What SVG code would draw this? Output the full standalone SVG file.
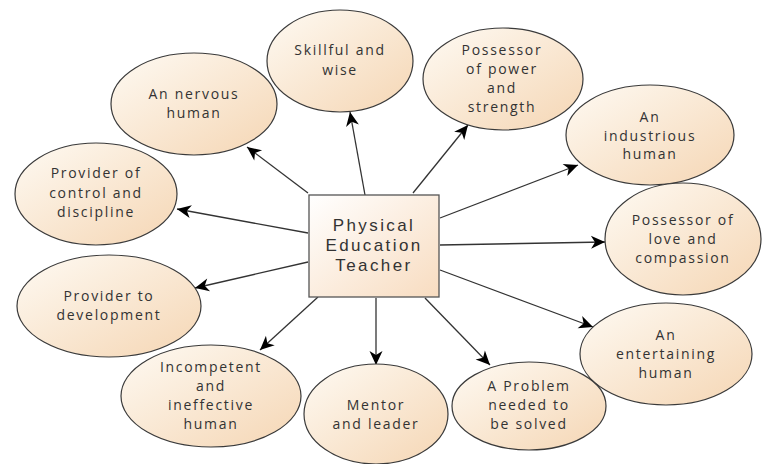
<svg xmlns="http://www.w3.org/2000/svg" width="765" height="464" viewBox="0 0 765 464">
<style>
.n ellipse{fill:url(#g);stroke:#3a3a3a;stroke-width:1.2}
.n text{font-family:"Open Sans","DejaVu Sans",sans-serif;font-size:14px;letter-spacing:1.7px;fill:#333;text-anchor:middle}
#center rect{fill:url(#gb);stroke:#555;stroke-width:1.3}
#center text{font-family:"Liberation Sans",Arial,sans-serif;font-size:17px;letter-spacing:2.4px;fill:#333;text-anchor:middle}
#connectors line{stroke:#333;stroke-width:1.3;marker-end:url(#ah)}
</style>
<defs>
<linearGradient id="g" x1="0" y1="0" x2="1" y2="1">
<stop offset="0" stop-color="#fefaf3"/>
<stop offset="1" stop-color="#f5d6b4"/>
</linearGradient>
<linearGradient id="gb" x1="0" y1="0" x2="1" y2="1">
<stop offset="0" stop-color="#ffffff"/>
<stop offset="1" stop-color="#f8dcc0"/>
</linearGradient>
<marker id="ah" viewBox="-15 -8 16 16" markerWidth="16" markerHeight="16" refX="0" refY="0" markerUnits="userSpaceOnUse" orient="auto">
<path d="M0,0 L-14,-6.5 L-10,0 L-14,6.5 Z" fill="#000"/>
</marker>
</defs>
<rect width="765" height="464" fill="#fff"/>
<g id="connectors">
<line x1="308" y1="193" x2="247" y2="147"/>
<line x1="365" y1="195" x2="350" y2="112"/>
<line x1="308" y1="233" x2="177" y2="209"/>
<line x1="413" y1="193" x2="468" y2="125"/>
<line x1="440" y1="218" x2="578" y2="165"/>
<line x1="440" y1="245" x2="605" y2="242"/>
<line x1="440" y1="270" x2="593" y2="327"/>
<line x1="425" y1="298" x2="490" y2="365"/>
<line x1="376" y1="298" x2="376" y2="365"/>
<line x1="318" y1="297" x2="260" y2="350"/>
<line x1="308" y1="262" x2="195" y2="288"/>
</g>
<g id="nervous" class="n"><ellipse cx="194" cy="104" rx="83" ry="51"/><text x="194" y="99">An nervous</text><text x="194" y="118">human</text></g>
<g id="skillful" class="n"><ellipse cx="340" cy="61" rx="73" ry="51"/><text x="340" y="55">Skillful and</text><text x="340" y="75">wise</text></g>
<g id="control" class="n"><ellipse cx="96" cy="194" rx="81" ry="51"/><text x="96" y="178">Provider of</text><text x="96" y="198">control and</text><text x="96" y="217">discipline</text></g>
<g id="power" class="n"><ellipse cx="503" cy="79" rx="80" ry="51"/><text x="502" y="55">Possessor</text><text x="502" y="74">of power</text><text x="502" y="93">and</text><text x="502" y="112">strength</text></g>
<g id="industrious" class="n"><ellipse cx="650" cy="135" rx="84" ry="50"/><text x="650" y="122">An</text><text x="650" y="141">industrious</text><text x="650" y="159">human</text></g>
<g id="love" class="n"><ellipse cx="683" cy="239" rx="78" ry="56"/><text x="683" y="225">Possessor of</text><text x="683" y="244">love and</text><text x="683" y="263">compassion</text></g>
<g id="entertaining" class="n"><ellipse cx="666" cy="354" rx="86" ry="51"/><text x="666" y="340">An</text><text x="666" y="359">entertaining</text><text x="666" y="378">human</text></g>
<g id="problem" class="n"><ellipse cx="529" cy="406" rx="77" ry="44"/><text x="529" y="391">A Problem</text><text x="529" y="410">needed to</text><text x="529" y="429">be solved</text></g>
<g id="mentor" class="n"><ellipse cx="376" cy="414" rx="72" ry="50"/><text x="376" y="410">Mentor</text><text x="376" y="429">and leader</text></g>
<g id="incompetent" class="n"><ellipse cx="211" cy="396" rx="90" ry="51"/><text x="211" y="372">Incompetent</text><text x="211" y="391">and</text><text x="211" y="410">ineffective</text><text x="211" y="429">human</text></g>
<g id="development" class="n"><ellipse cx="109" cy="306" rx="92" ry="51"/><text x="109" y="301">Provider to</text><text x="109" y="320">development</text></g>
<g id="center"><rect x="309" y="195" width="130" height="102"/><text x="374" y="231">Physical</text><text x="374" y="251">Education</text><text x="374" y="271">Teacher</text></g>
</svg>
